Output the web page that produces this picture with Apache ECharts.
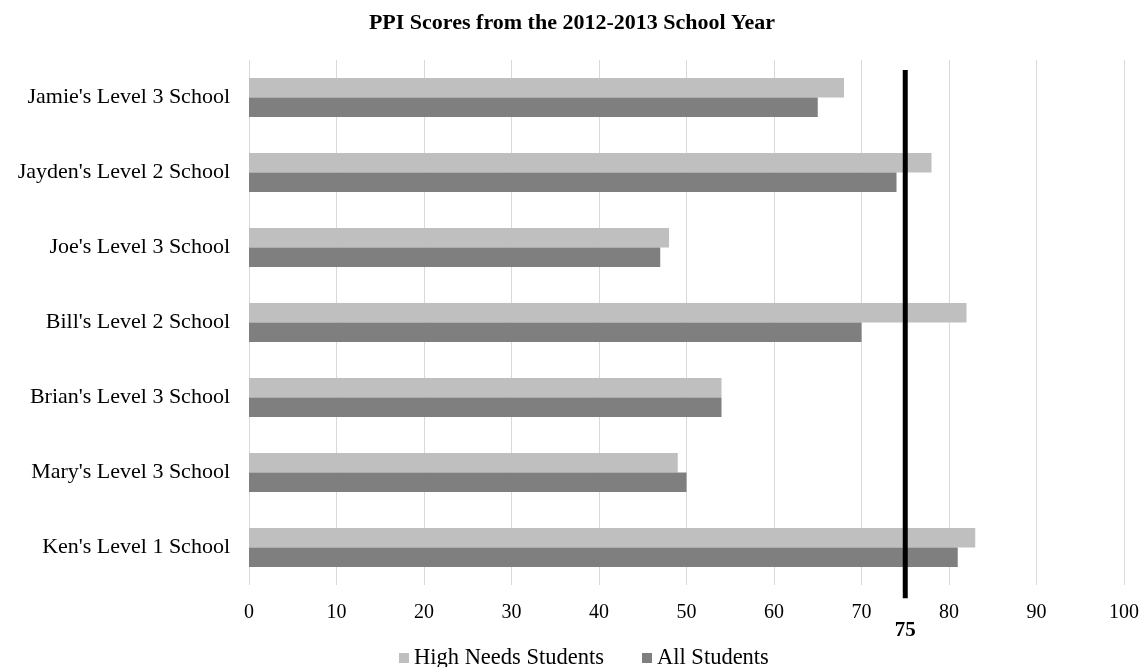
<!DOCTYPE html>
<html>
<head>
<meta charset="utf-8">
<script src="https://cdn.jsdelivr.net/npm/echarts@6/dist/echarts.min.js"></script>
<style>
html,body{margin:0;padding:0;background:#fff;}
#chart{width:1144px;height:667px;}
</style>
</head>
<body>
<div id="chart"></div>
<script>
var titleText = 'PPI Scores from the 2012-2013 School Year';
var schools = ["Jamie's Level 3 School", "Jayden's Level 2 School", "Joe's Level 3 School", "Bill's Level 2 School", "Brian's Level 3 School", "Mary's Level 3 School", "Ken's Level 1 School"];
var highNeeds = [68, 78, 48, 82, 54, 49, 83];
var allStudents = [65, 74, 47, 70, 54, 50, 81];
var seriesNames = ['High Needs Students', 'All Students'];
var targetScore = 75;
var xTicks = [0, 10, 20, 30, 40, 50, 60, 70, 80, 90, 100];

var FONT = '"Liberation Serif", "Times New Roman", serif';
var chart = echarts.init(document.getElementById('chart'));
chart.setOption({
  animation: false,
  backgroundColor: '#ffffff',
  title: {
    text: titleText,
    left: 'center',
    top: 12,
    padding: 0,
    textStyle: { fontFamily: FONT, fontSize: 22, fontWeight: 'bold', color: '#000' }
  },
  legend: {
    data: seriesNames,
    left: 399,
    top: 646,
    padding: 0,
    itemWidth: 10,
    itemHeight: 10,
    itemGap: 38,
    icon: 'rect',
    textStyle: { fontFamily: FONT, fontSize: 22.5, color: '#000', lineHeight: 24 }
  },
  grid: { left: 249, right: 20, top: 60, bottom: 82, containLabel: false },
  xAxis: {
    type: 'value',
    min: xTicks[0],
    max: xTicks[xTicks.length - 1],
    interval: 10,
    axisLine: { show: false },
    axisTick: { show: false },
    splitLine: { show: true, lineStyle: { color: '#d9d9d9', width: 1 } },
    axisLabel: { fontFamily: FONT, fontSize: 20, color: '#000', margin: 18 }
  },
  yAxis: [
    {
      type: 'category',
      data: schools,
      inverse: true,
      axisLine: { show: false },
      axisTick: { show: false },
      splitLine: { show: false },
      axisLabel: { fontFamily: FONT, fontSize: 22, color: '#000', margin: 19 }
    },
    {
      type: 'value',
      min: 0,
      max: 1,
      show: false
    }
  ],
  series: [
    {
      name: seriesNames[0],
      type: 'bar',
      data: highNeeds,
      itemStyle: { color: '#bfbfbf' },
      barGap: '0%',
      barCategoryGap: '48%'
    },
    {
      name: seriesNames[1],
      type: 'bar',
      data: allStudents,
      itemStyle: { color: '#7f7f7f' },
      barGap: '0%',
      barCategoryGap: '48%'
    },
    {
      name: 'Target',
      type: 'line',
      yAxisIndex: 1,
      clip: false,
      silent: true,
      showSymbol: true,
      symbol: 'circle',
      symbolSize: 0,
      lineStyle: { color: '#000', width: 5 },
      itemStyle: { color: '#000' },
      data: [
        { value: [targetScore, -0.025], label: { show: true, position: 'bottom', distance: 22, formatter: String(targetScore), fontFamily: FONT, fontSize: 21, fontWeight: 'bold', color: '#000' } },
        { value: [targetScore, 0.981], label: { show: false } }
      ],
      z: 5
    }
  ]
});
</script>
</body>
</html>
